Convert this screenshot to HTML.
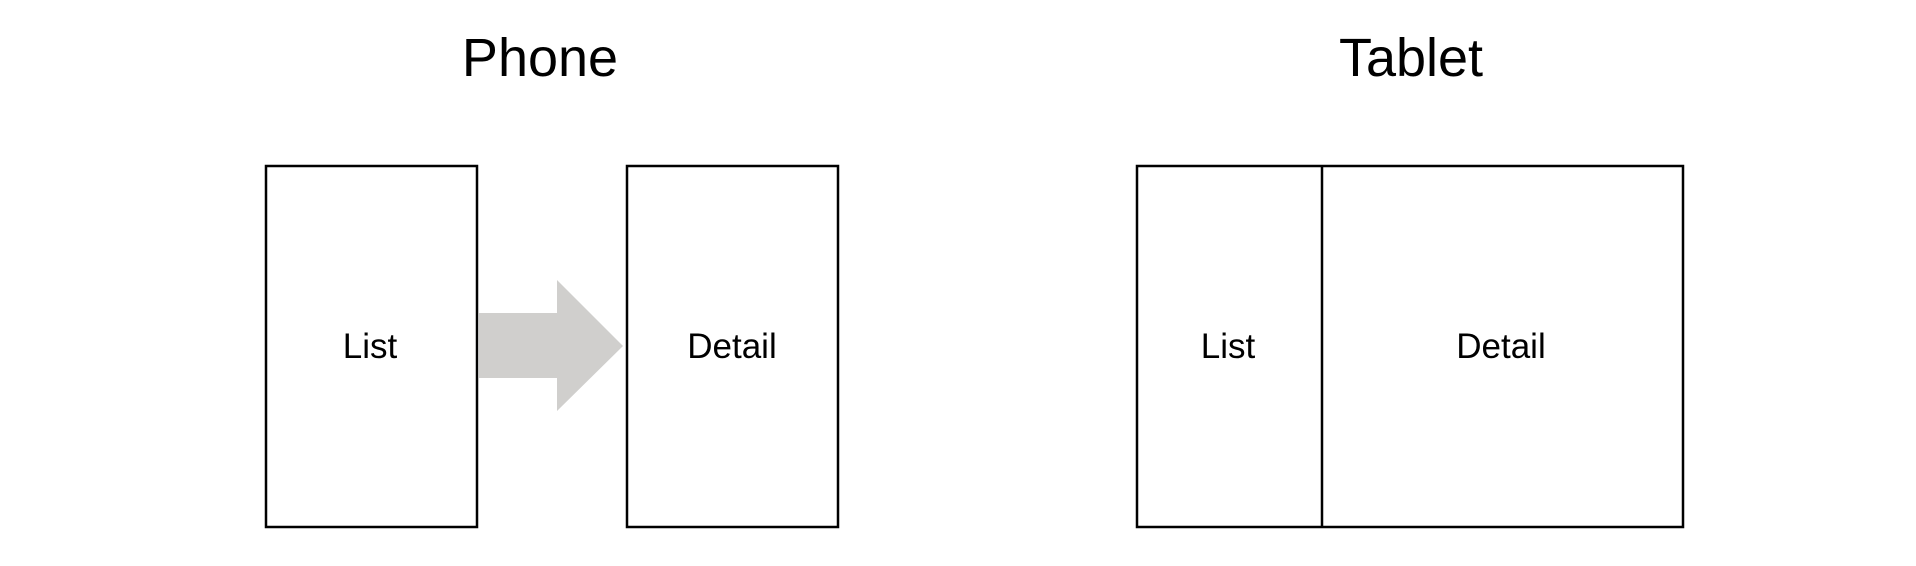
<!DOCTYPE html>
<html><head><style>
body{margin:0;background:#fff;}
</style></head><body>
<svg width="1916" height="566" xmlns="http://www.w3.org/2000/svg" style="display:block">
<g font-family="Liberation Sans, Arial, sans-serif" fill="#000" text-anchor="middle">
<text x="540" y="76" font-size="54">Phone</text>
<text x="1411" y="76" font-size="54">Tablet</text>
</g>
<g fill="none" stroke="#000" stroke-width="2.5">
<rect x="266" y="166" width="211" height="361"/>
<rect x="627" y="166" width="211" height="361"/>
<rect x="1137" y="166" width="546" height="361"/>
<line x1="1322" y1="166" x2="1322" y2="527"/>
</g>
<polygon points="479,313 557,313 557,280 623,346 557,411 557,378 479,378" fill="#d0cfcd"/>
<g font-family="Liberation Sans, Arial, sans-serif" font-size="35" fill="#000" text-anchor="middle">
<text x="370" y="358">List</text>
<text x="732" y="358">Detail</text>
<text x="1228" y="358">List</text>
<text x="1501" y="358">Detail</text>
</g>
</svg>
</body></html>
